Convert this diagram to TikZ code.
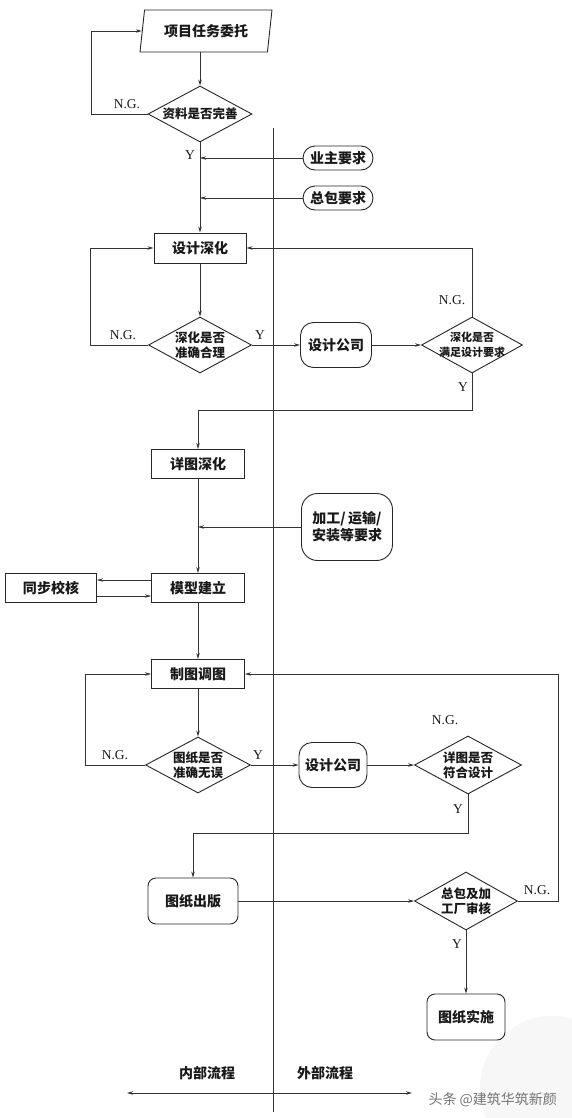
\documentclass[tikz,border=0pt]{standalone}
\usepackage{fontspec}
\newfontfamily\cjk{Noto Sans CJK SC}
\newfontfamily\lat{Liberation Serif}
\usetikzlibrary{shapes.geometric,arrows.meta,calc}
\begin{document}
\begin{tikzpicture}[x=1pt,y=-1pt,
  every node/.style={font=\cjk\bfseries\fontsize{14}{17}\selectfont, text=black!90},
  ln/.style={draw=black!80, line width=0.8pt},
  arr/.style={ln, -{Stealth[length=6pt,width=3.5pt]}},
  box/.style={draw=black!85, line width=1pt, minimum width=93pt, minimum height=29pt, inner sep=0pt},
  rbox/.style={box, line width=0.9pt, rounded corners=8pt},
  pill/.style={box, line width=0.9pt, rounded corners=12pt},
  dia/.style={diamond, draw=black!85, line width=0.9pt, inner sep=0pt, minimum width=104pt, minimum height=56pt},
  dtext/.style={font=\cjk\bfseries\fontsize{12.5}{15}\selectfont, align=center, inner sep=0pt},
  dsmall/.style={dtext, font=\cjk\bfseries\fontsize{11}{14.5}\selectfont},
  lab/.style={font=\lat\fontsize{13.5}{15}\selectfont, inner sep=0pt},
]
\useasboundingbox (0,0) rectangle (572,1118);
\fill[black!3] (552,1088) circle (72);

% divider
\coordinate (dt) at (273,128);
\coordinate (db) at (273,1112);
\draw[ln, line width=1pt] (dt) -- (db);

% nodes
\node[trapezium, trapezium left angle=77, trapezium right angle=103, trapezium stretches=true,
      draw=black!85, line width=0.9pt, minimum width=133pt, minimum height=42pt, inner sep=0pt] (p) at (206,31) {项目任务委托};
\node[dia, label={[dtext]center:资料是否完善}] (d1) at (200,114) {};
\node[pill, minimum width=70pt, minimum height=24pt] (yz) at (338,158) {业主要求};
\node[pill, minimum width=70pt, minimum height=24pt] (zb) at (338,198) {总包要求};
\node[box, minimum width=92pt, minimum height=30pt] (sj) at (200,248) {设计深化};
\node[dia, minimum width=103pt, label={[dtext]center:深化是否\\准确合理}] (d2) at (200,345) {};
\node[pill, minimum width=71pt, minimum height=45pt, rounded corners=13pt] (gs1) at (336,345) {设计公司};
\node[dia, minimum width=101pt, label={[dsmall]center:深化是否\\满足设计要求}] (d3) at (472,345) {};
\node[box] (xt) at (198,464) {详图深化};
\node[pill, minimum width=91pt, minimum height=67pt, rounded corners=16pt, align=center] (jg) at (347,527) {加工/\,运输/\\安装等要求};
\node[box] (mx) at (198,588) {模型建立};
\node[box, minimum width=91pt] (tb) at (51,588) {同步校核};
\node[box] (zt) at (198,674) {制图调图};
\node[dia, minimum width=105pt, label={[dtext]center:图纸是否\\准确无误}] (d4) at (198,765) {};
\node[pill, minimum width=68pt, minimum height=45pt, rounded corners=13pt] (gs2) at (333,765) {设计公司};
\node[dia, minimum width=107pt, minimum height=58pt, label={[dtext]center:详图是否\\符合设计}] (d5) at (468,765) {};
\node[rbox, minimum width=90pt, minimum height=46pt] (cb) at (193,901) {图纸出版};
\node[dia, minimum width=103pt, minimum height=58pt, label={[dtext]center:总包及加\\工厂审核}] (d6) at (466,901) {};
\node[rbox, minimum width=78pt, minimum height=46pt] (ss) at (466,1017) {图纸实施};

% labels
\node[lab] (l1) at (127,104) {N.G.};
\node[lab] (l2) at (190,155) {Y};
\node[lab] (l3) at (123,335) {N.G.};
\node[lab] (l4) at (260,335) {Y};
\node[lab] (l5) at (452,300) {N.G.};
\node[lab] (l6) at (463,387) {Y};
\node[lab] (l7) at (115,755) {N.G.};
\node[lab] (l8) at (258,755) {Y};
\node[lab] (l9) at (445,720) {N.G.};
\node[lab] (l10) at (458,809) {Y};
\node[lab] (l11) at (537,890) {N.G.};
\node[lab] (l12) at (457,944) {Y};

% connectors
\draw[arr] (p.south -| d1.north) -- (d1.north);
\draw[arr] (d1.west) -- ++(-56,0) |- (p.west);
\draw[arr] (d1.south) -- (sj.north);
\draw[arr] (yz.west) -- (yz.west -| d1.south);
\draw[arr] (zb.west) -- (zb.west -| d1.south);
\draw[arr] (sj.south) -- (d2.north);
\draw[arr] (d2.west) -- ++(-58,0) |- (sj.west);
\draw[arr] (d2.east) -- (gs1.west);
\draw[arr] (gs1.east) -- (d3.west);
\draw[arr] (d3.north) |- (sj.east);
\coordinate (t1) at (198,410);
\draw[arr] (d3.south) |- (t1) -- (xt.north);
\draw[arr] (xt.south) -- (mx.north);
\draw[arr] (jg.west) -- (jg.west -| xt.south);
\draw[arr] ([yshift=8pt]mx.west) -- ([yshift=8pt]tb.east);
\draw[arr] ([yshift=-8pt]tb.east) -- ([yshift=-8pt]mx.west);
\draw[arr] (mx.south) -- (zt.north);
\draw[arr] (zt.south) -- (d4.north);
\draw[arr] (d4.west) -- ++(-60,0) |- (zt.west);
\draw[arr] (d4.east) -- (gs2.west);
\draw[arr] (gs2.east) -- (d5.west);
\coordinate (t2) at (193,833);
\draw[arr] (d5.south) |- (t2) -- (cb.north);
\draw[arr] (cb.east) -- (d6.west);
\coordinate (r1) at (558,674);
\draw[arr] (d6.east) -| (r1) -- (zt.east);
\draw[arr] (d6.south) -- (ss.north);

% bottom axis
\coordinate (bl) at (127,1093);
\coordinate (br) at (412,1093);
\draw[ln, {Stealth[length=6pt,width=3.5pt]}-{Stealth[length=6pt,width=3.5pt]}] (bl) -- (br);
\node (nb) at (207,1073) {内部流程};
\node (wb) at (325,1073) {外部流程};
\node[font=\cjk\fontsize{14}{16}\selectfont, text=black!55, anchor=west] (wm) at (425,1100) {头条 @建筑华筑新颜};
\end{tikzpicture}
\end{document}
